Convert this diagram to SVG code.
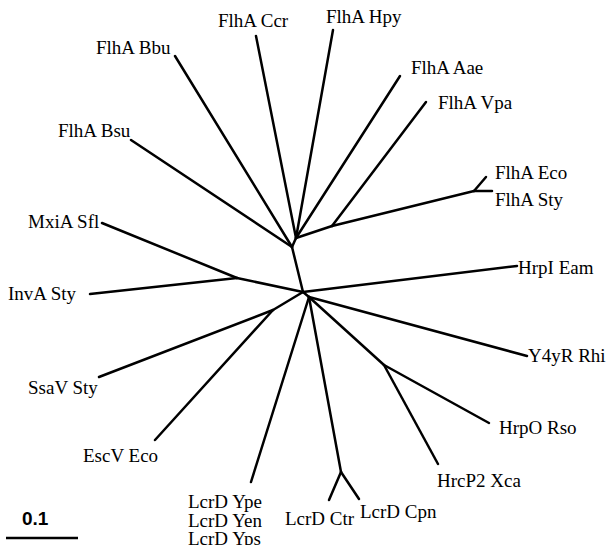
<svg xmlns="http://www.w3.org/2000/svg" width="609" height="545" viewBox="0 0 609 545">
<style>
.e{stroke:#000;stroke-width:2.5;fill:none;stroke-linecap:round;stroke-linejoin:round}
.t{font-family:"Liberation Serif","Times New Roman",serif;font-size:19px;fill:#000}
.s{font-family:"Liberation Sans",Arial,sans-serif;font-size:19px;font-weight:bold;fill:#000}
</style>
<rect width="609" height="545" fill="#fff"/>
<g id="edges" class="e">
<path d="M292,247 L296,238"/>
<path d="M292,247 L303,292"/>
<path d="M292,247 L175,56"/>
<path d="M292,247 L131,140"/>
<path d="M296,238 L256,36"/>
<path d="M296,238 L333,30"/>
<path d="M296,238 L400,76"/>
<path d="M296,238 L332,226"/>
<path d="M332,226 L426,102"/>
<path d="M332,226 L474,191"/>
<path d="M474,191 L486,177"/>
<path d="M474,191 L492,191"/>
<path d="M303,292 L237,278"/>
<path d="M237,278 L102,223"/>
<path d="M237,278 L90,294"/>
<path d="M303,292 L517,266"/>
<path d="M303,292 L273,310"/>
<path d="M273,310 L99,377"/>
<path d="M273,310 L155,440"/>
<path d="M303,292 L309,297"/>
<path d="M309,297 L527,356"/>
<path d="M309,297 L384,365"/>
<path d="M384,365 L489,423"/>
<path d="M384,365 L438,464"/>
<path d="M309,297 L341,472"/>
<path d="M341,472 L329,500"/>
<path d="M341,472 L359,499"/>
<path d="M309,297 L251,482"/>
</g>
<g id="FlhA_Ccr"><text class="t" x="218" y="27">FlhA Ccr</text></g>
<g id="FlhA_Hpy"><text class="t" x="326" y="23">FlhA Hpy</text></g>
<g id="FlhA_Bbu"><text class="t" x="96" y="54">FlhA Bbu</text></g>
<g id="FlhA_Aae"><text class="t" x="411" y="74">FlhA Aae</text></g>
<g id="FlhA_Vpa"><text class="t" x="438" y="109">FlhA Vpa</text></g>
<g id="FlhA_Bsu"><text class="t" x="58" y="137">FlhA Bsu</text></g>
<g id="FlhA_Eco"><text class="t" x="495" y="179">FlhA Eco</text></g>
<g id="FlhA_Sty"><text class="t" x="495" y="206">FlhA Sty</text></g>
<g id="MxiA_Sfl"><text class="t" x="28" y="228">MxiA Sfl</text></g>
<g id="InvA_Sty"><text class="t" x="8" y="300">InvA Sty</text></g>
<g id="HrpI_Eam"><text class="t" x="518" y="274">HrpI Eam</text></g>
<g id="Y4yR_Rhi"><text class="t" x="528" y="362">Y4yR Rhi</text></g>
<g id="SsaV_Sty"><text class="t" x="28" y="394">SsaV Sty</text></g>
<g id="EscV_Eco"><text class="t" x="83" y="462">EscV Eco</text></g>
<g id="HrpO_Rso"><text class="t" x="499" y="434">HrpO Rso</text></g>
<g id="HrcP2_Xca"><text class="t" x="437" y="487">HrcP2 Xca</text></g>
<g id="LcrD_Ctr"><text class="t" x="285" y="525">LcrD Ctr</text></g>
<g id="LcrD_Cpn"><text class="t" x="360" y="518">LcrD Cpn</text></g>
<g id="LcrD_Y"><text class="t" x="188" y="508">LcrD Ype</text><text class="t" x="188" y="527">LcrD Yen</text><text class="t" x="188" y="545">LcrD Yps</text></g>
<g id="scale"><text class="s" x="22" y="525">0.1</text><path d="M6,538 L78,538" stroke="#000" stroke-width="2.5"/></g>
</svg>
